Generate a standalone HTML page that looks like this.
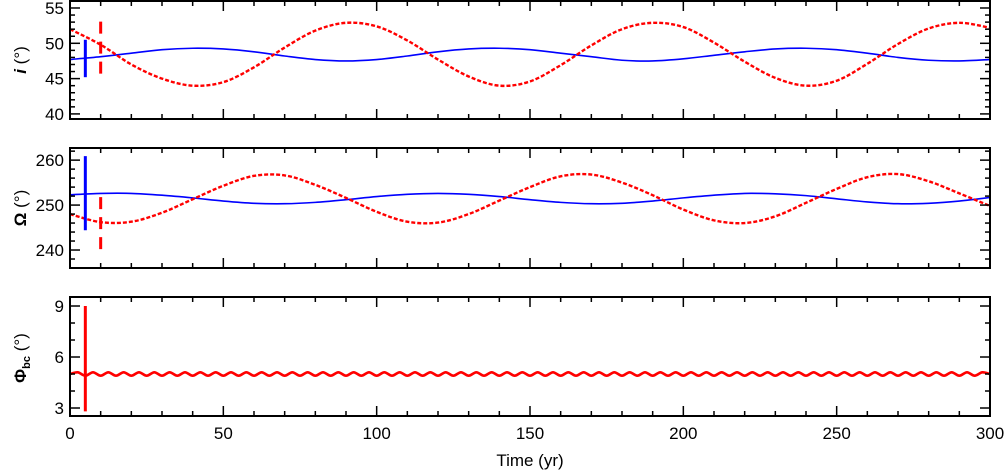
<!DOCTYPE html>
<html><head><meta charset="utf-8">
<style>
html,body{margin:0;padding:0;background:#fff;}
svg{display:block;font-family:"Liberation Sans",sans-serif;}
</style></head>
<body>
<svg id="chart" width="1007" height="471" viewBox="0 0 1007 471" xmlns="http://www.w3.org/2000/svg"></svg>
<script>
const years = [0,10,20,30,40,50,60,70,80,90,100,110,120,130,140,150,160,170,180,190,200,210,220,230,240,250,260,270,280,290,300];
const incBlue = [47.7,48.1,48.6,49.1,49.3,49.2,48.8,48.2,47.7,47.5,47.7,48.2,48.8,49.2,49.3,49.1,48.6,48.1,47.6,47.5,47.8,48.3,48.8,49.2,49.3,49.1,48.6,48.0,47.6,47.5,47.7];
const incRed = [52.0,49.8,47.0,45.0,44.0,44.5,46.6,49.4,51.8,52.9,52.4,50.4,47.7,45.3,44.0,44.6,46.9,49.7,52.0,52.9,52.3,50.1,47.4,45.1,44.0,44.7,47.1,49.9,52.1,52.9,52.2];
const omBlue = [252.3,252.6,252.6,252.2,251.6,250.9,250.4,250.3,250.6,251.2,251.9,252.4,252.6,252.4,251.9,251.2,250.6,250.3,250.4,250.9,251.6,252.2,252.6,252.5,252.1,251.4,250.7,250.3,250.4,250.9,251.7];
const omRed = [248.0,246.2,246.3,248.3,251.3,254.3,256.5,256.6,254.5,251.6,248.5,246.3,246.1,248.0,251.0,254.0,256.4,256.8,255.0,252.2,249.0,246.6,246.0,247.5,250.5,253.6,256.2,256.9,255.3,252.6,249.8];
const phiYears = [];
for (let k=0;k<=120;k++) phiYears.push(k*2.5);
const phiVals = [5.0,5.1,4.9,5.1,4.9,5.1,4.9,5.1,4.9,5.1,4.9,5.1,4.9,5.1,4.9,5.1,4.9,5.1,4.9,5.1,4.9,5.1,4.9,5.1,4.9,5.1,4.9,5.1,4.9,5.1,4.9,5.1,4.9,5.1,4.9,5.1,4.9,5.1,4.9,5.1,4.9,5.1,4.9,5.1,4.9,5.1,4.9,5.1,4.9,5.1,4.9,5.1,4.9,5.1,4.9,5.1,4.9,5.1,4.9,5.1,4.9,5.1,4.9,5.1,4.9,5.1,4.9,5.1,4.9,5.1,4.9,5.1,4.9,5.1,4.9,5.1,4.9,5.1,4.9,5.1,4.9,5.1,4.9,5.1,4.9,5.1,4.9,5.1,4.9,5.1,4.9,5.1,4.9,5.1,4.9,5.1,4.9,5.1,4.9,5.1,4.9,5.1,4.9,5.1,4.9,5.1,4.9,5.1,4.9,5.1,4.9,5.1,4.9,5.1,4.9,5.1,4.9,5.1,4.9,5.1,5.0];
const xTicks = [0,50,100,150,200,250,300];
const incTicks = [40,45,50,55];
const omTicks = [240,250,260];
const phiTicks = [3,6,9];
const incErr = {blue:[5,45.2,50.5], red:[10,45.7,54.0]};
const omErr = {blue:[5,244.4,260.9], red:[10,240.2,253.3]};
const phiErr = {red:[5,2.8,9.0]};

const NS="http://www.w3.org/2000/svg";
const svg=document.getElementById('chart');
const X0=70,X1=990;
const xs=v=>X0+(v-0)/300*(X1-X0);
function mk(tag,attrs,parent){const e=document.createElementNS(NS,tag);for(const k in attrs)e.setAttribute(k,attrs[k]);(parent||svg).appendChild(e);return e;}
function smooth(pts){
  let d="M"+pts[0][0].toFixed(2)+","+pts[0][1].toFixed(2);
  for(let i=0;i<pts.length-1;i++){
    const p0=pts[Math.max(0,i-1)],p1=pts[i],p2=pts[i+1],p3=pts[Math.min(pts.length-1,i+2)];
    const c1=[p1[0]+(p2[0]-p0[0])/6,p1[1]+(p2[1]-p0[1])/6];
    const c2=[p2[0]-(p3[0]-p1[0])/6,p2[1]-(p3[1]-p1[1])/6];
    d+=" C"+c1[0].toFixed(2)+","+c1[1].toFixed(2)+" "+c2[0].toFixed(2)+","+c2[1].toFixed(2)+" "+p2[0].toFixed(2)+","+p2[1].toFixed(2);
  }
  return d;
}
function panel(name,top,bot,ymin,ymax,ticks,minorStep,series,errs,title,sub,titleY,xLabels){
  const g=mk('g',{});
  
  
  const ys=v=>bot-(v-ymin)/(ymax-ymin)*(bot-top);
  const clipId='clip-'+name;
  const cp=mk('clipPath',{id:clipId},g);
  mk('rect',{x:X0,y:top,width:X1-X0,height:bot-top},cp);
  series.forEach(s=>{
    const pts=s.x.map((t,i)=>[xs(t),ys(s.y[i])]);
    const p=mk('path',{d:smooth(pts),fill:'none',stroke:s.color,'stroke-width':s.w,'stroke-dasharray':s.dash||'none','clip-path':'url(#'+clipId+')'},g);
    
    
  });
  for(const k in errs){
    const e=errs[k];
    const l=mk('line',{x1:xs(e[0]),x2:xs(e[0]),y1:ys(e[1]),y2:ys(e[2]),stroke:k==='blue'?'#0000ff':'#ff0000','stroke-width':3,'stroke-dasharray':(k==='red'&&name!=='phi')?'12,8':'none'},g);
    
    
  }
  const fr=mk('rect',{x:X0,y:top,width:X1-X0,height:bot-top,fill:'none',stroke:'#000','stroke-width':2},g);
  
  
  for(let t=0;t<=300;t+=10){
    const L=(t%50===0)?10:5;
    mk('line',{x1:xs(t),x2:xs(t),y1:bot,y2:bot-L,stroke:'#000','stroke-width':1.5},g);
    mk('line',{x1:xs(t),x2:xs(t),y1:top,y2:top+L,stroke:'#000','stroke-width':1.5},g);
  }
  const start=Math.ceil(ymin/minorStep)*minorStep;
  for(let v=start;v<=ymax+1e-9;v+=minorStep){
    const major=ticks.some(t=>Math.abs(t-v)<1e-6);
    const L=major?10:5;
    mk('line',{x1:X0,x2:X0+L,y1:ys(v),y2:ys(v),stroke:'#000','stroke-width':1.5},g);
    mk('line',{x1:X1,x2:X1-L,y1:ys(v),y2:ys(v),stroke:'#000','stroke-width':1.5},g);
  }
  ticks.forEach(t=>{
    const tx=mk('text',{x:X0-6,y:ys(t)+6,'text-anchor':'end','font-size':17},g);
    tx.textContent=t;
    
    
  });
  const tt=mk('text',{transform:'translate(26,'+titleY+') rotate(-90)','text-anchor':'middle','font-size':17,'font-weight':'bold'},g);
  
  
  tt.innerHTML=title+(sub?'<tspan font-size="11" dy="4">'+sub+'</tspan><tspan dy="-4" font-weight="normal"> (°)</tspan>':'<tspan font-weight="normal"> (°)</tspan>');
  if(xLabels){
    xTicks.forEach(t=>{
      const tx=mk('text',{x:xs(t),y:bot+23,'text-anchor':'middle','font-size':17},g);
      tx.textContent=t;
      
      
    });
  }
}
panel('inclination',1,119,39.28,55.99,incTicks,1,[
  {name:'inclination-blue-line',x:years,y:incBlue,color:'#0000ff',w:1.6},
  {name:'inclination-red-line',x:years,y:incRed,color:'#ff0000',w:2.4,dash:'4,2'}
],incErr,'<tspan font-style="italic">i</tspan>',null,60,false);
panel('node',148,268,236.0,262.7,omTicks,2,[
  {name:'node-blue-line',x:years,y:omBlue,color:'#0000ff',w:1.6},
  {name:'node-red-line',x:years,y:omRed,color:'#ff0000',w:2.4,dash:'4,2'}
],omErr,'Ω',null,208,false);
panel('phi',297,416,2.53,9.53,phiTicks,1,[
  {name:'phi-red-line',x:phiYears,y:phiVals,color:'#ff0000',w:2.6}
],phiErr,'Φ','bc',358,true);
const xt=mk('text',{x:530,y:466,'text-anchor':'middle','font-size':17});
xt.textContent='Time (yr)';


</script>
</body></html>
